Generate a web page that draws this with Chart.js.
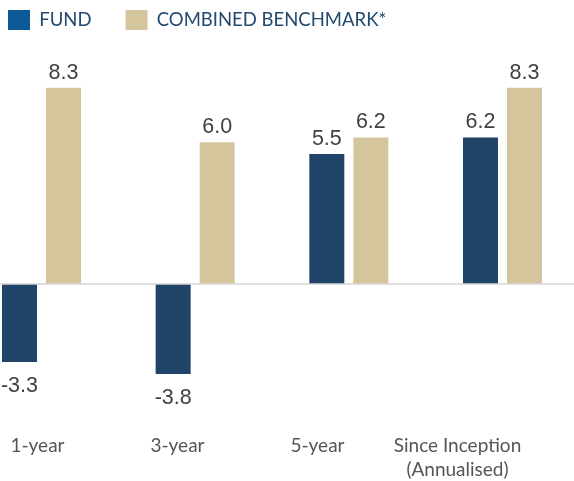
<!DOCTYPE html>
<html>
<head>
<meta charset="utf-8">
<script src="https://cdn.jsdelivr.net/npm/chart.js@4.4.1/dist/chart.umd.min.js"></script>
<style>
  body { margin: 0; background: #fff; }
  #wrap { position: relative; width: 574px; height: 481px; }
</style>
</head>
<body>
<div id="wrap"><canvas id="perf" width="574" height="481"></canvas></div>
<script>
// data
const categories = ['1-year', '3-year', '5-year', ['Since Inception', '(Annualised)']];
const fundValues = [-3.3, -3.8, 5.5, 6.2];
const benchmarkValues = [8.3, 6.0, 6.2, 8.3];
const seriesNames = ['FUND', 'COMBINED BENCHMARK*'];

// axis ranges
const Y_MIN = -5.37;
const Y_MAX = 10.32;
const LABEL_AXIS_MAX = 461 / 140;

const barColors = ['#1f4468', '#d4c59c'];
const legendColors = ['#0d5a95', '#d4c59c'];

Chart.defaults.font.family = 'Lato';

const valueLabels = {
  id: 'valueLabels',
  afterDatasetsDraw(chart) {
    const ctx = chart.ctx;
    ctx.save();
    ctx.font = '21.5px "Liberation Sans", Arial, sans-serif';
    ctx.fillStyle = '#404040';
    ctx.textAlign = 'center';
    ctx.textBaseline = 'alphabetic';
    chart.data.datasets.forEach((ds, i) => {
      chart.getDatasetMeta(i).data.forEach((bar, j) => {
        const v = ds.data[j];
        const y = v >= 0 ? bar.y - 9 : bar.y + 30;
        ctx.fillText(v.toFixed(1), bar.x, y);
      });
    });
    ctx.restore();
  }
};

const zeroLine = {
  id: 'zeroLine',
  afterDatasetsDraw(chart) {
    const ctx = chart.ctx;
    const y0 = chart.scales.y.getPixelForValue(0);
    ctx.save();
    ctx.strokeStyle = '#d6d6d6';
    ctx.lineWidth = 1.5;
    ctx.beginPath();
    ctx.moveTo(0, y0);
    ctx.lineTo(chart.width, y0);
    ctx.stroke();
    ctx.restore();
  }
};

const perf = new Chart(document.getElementById('perf'), {
  type: 'bar',
  data: {
    labels: categories,
    datasets: [{
      label: seriesNames[0],
      data: fundValues,
      backgroundColor: barColors[0],
      borderWidth: 0,
      clip: false,
      xAxisID: 'x',
      yAxisID: 'y'
    }, {
      label: seriesNames[1],
      data: benchmarkValues,
      backgroundColor: barColors[1],
      borderWidth: 0,
      clip: false,
      xAxisID: 'x',
      yAxisID: 'y'
    }]
  },
  options: {
    responsive: false,
    animation: false,
    devicePixelRatio: 1,
    categoryPercentage: 0.573,
    barPercentage: 0.795,
    layout: { padding: { left: -26, top: -24, right: 0, bottom: 0 } },
    plugins: {
      tooltip: { enabled: false },
      legend: {
        position: 'top',
        align: 'start',
        labels: {
          boxWidth: 22,
          boxHeight: 20,
          padding: 34,
          color: '#24496f',
          font: { size: 18.5, family: 'Lato' },
          generateLabels(chart) {
            const items = Chart.defaults.plugins.legend.labels.generateLabels(chart);
            items.forEach((it, i) => {
              it.fillStyle = legendColors[i];
              it.strokeStyle = legendColors[i];
              it.lineWidth = 0;
            });
            return items;
          }
        }
      }
    },
    scales: {
      x: {
        type: 'category',
        offset: false,
        display: false
      },
      x2: {
        type: 'linear',
        position: 'bottom',
        offset: false,
        min: 0,
        max: LABEL_AXIS_MAX,
        grid: { display: false, drawTicks: false, offset: false },
        border: { display: false },
        afterBuildTicks(s) { s.ticks = [0, 1, 2, 3].map(v => ({ value: v })); },
        afterFit(s) {
          s.height = 70;
          s.paddingLeft = 0;
          s.paddingRight = 0;
        },
        ticks: {
          autoSkip: false,
          maxRotation: 0,
          padding: 23,
          labelOffset: -4,
          color: '#555555',
          font: { size: 19, family: 'Lato', lineHeight: 1.263 },
          callback: v => categories[v]
        }
      },
      y: {
        type: 'linear',
        position: 'left',
        min: Y_MIN,
        max: Y_MAX,
        grid: { display: false },
        border: { display: false },
        ticks: { display: false },
        afterFit(s) { s.width = 67.5; }
      },
      y2: {
        type: 'linear',
        position: 'right',
        grid: { display: false },
        border: { display: false },
        ticks: { display: false },
        afterFit(s) { s.width = 71.5; }
      }
    }
  },
  plugins: [zeroLine, valueLabels]
});
</script>
</body>
</html>
